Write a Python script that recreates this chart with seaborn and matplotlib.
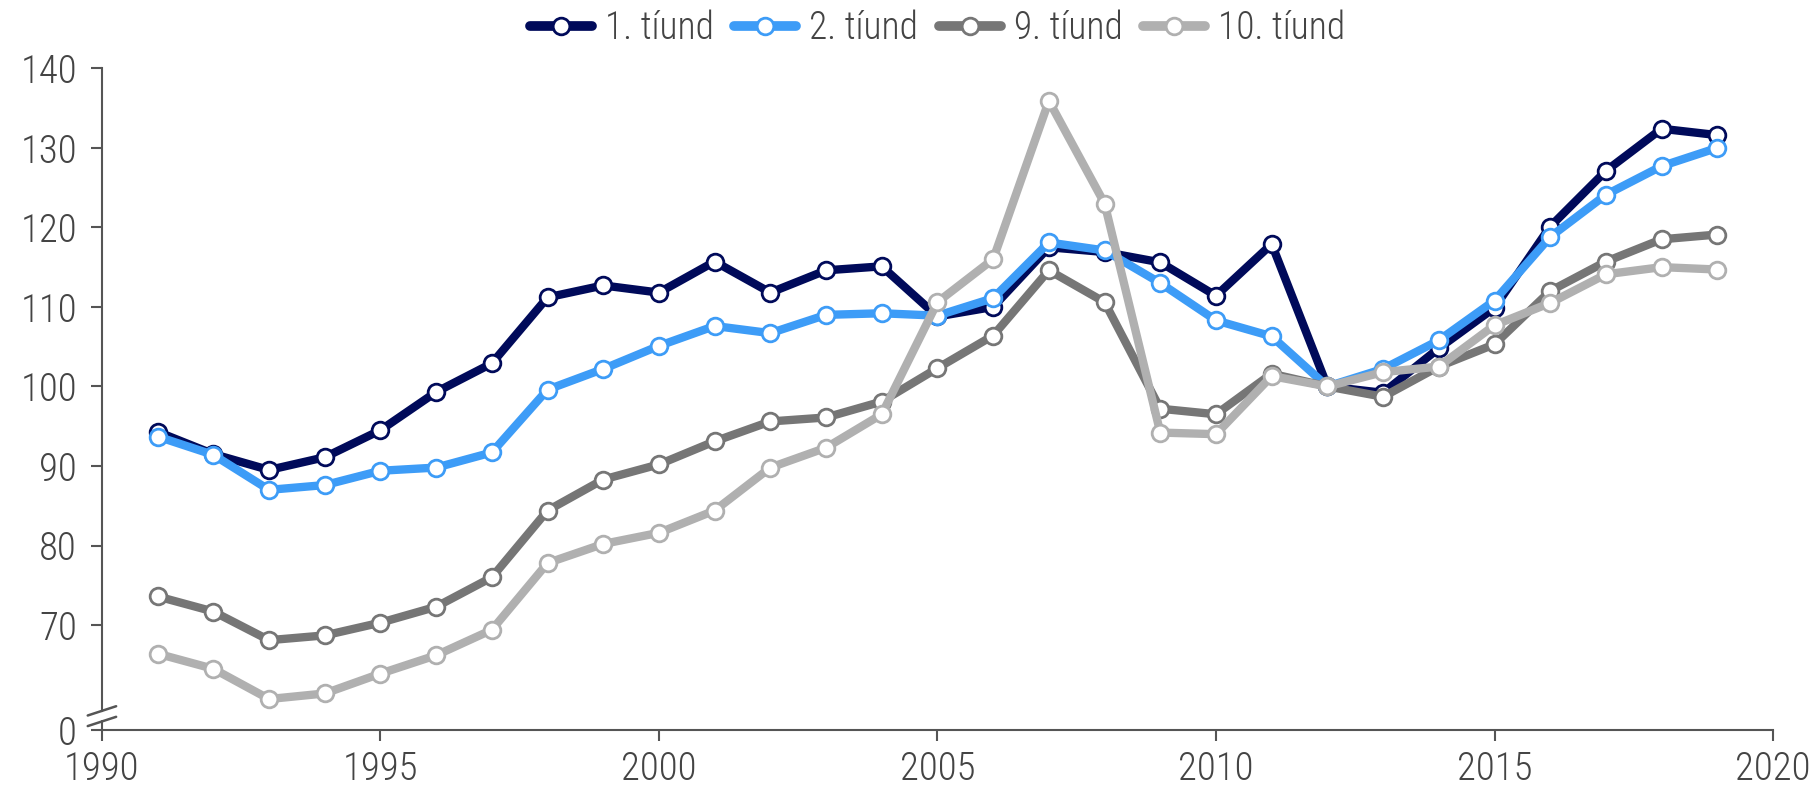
import pandas as pd
import numpy as np
import matplotlib
matplotlib.use("Agg")
import matplotlib.pyplot as plt
import seaborn as sns

# data
years = list(range(1991, 2020))
tiund_1 = [94.3, 91.5, 89.5, 91.1, 94.5, 99.3, 102.9, 111.2, 112.7, 111.8,
           115.7, 111.8, 114.6, 115.1, 108.8, 110.0, 117.5, 116.9, 115.6, 111.4,
           117.9, 100.0, 99.2, 104.8, 109.9, 120.1, 127.1, 132.4, 131.6]
tiund_2 = [93.7, 91.4, 87.0, 87.6, 89.4, 89.8, 91.7, 99.6, 102.2, 105.1,
           107.6, 106.7, 109.0, 109.2, 108.9, 111.1, 118.1, 117.1, 113.0, 108.3,
           106.3, 100.0, 102.2, 105.8, 110.8, 118.8, 124.1, 127.7, 130.0]
tiund_9 = [73.6, 71.7, 68.1, 68.7, 70.3, 72.3, 76.0, 84.4, 88.3, 90.2,
           93.1, 95.6, 96.1, 98.1, 102.3, 106.4, 114.6, 110.6, 97.2, 96.5,
           101.6, 100.0, 98.7, 102.5, 105.3, 112.0, 115.7, 118.5, 119.1]
tiund_10 = [66.4, 64.5, 60.7, 61.4, 63.9, 66.2, 69.4, 77.8, 80.2, 81.6,
            84.4, 89.8, 92.3, 96.5, 110.6, 116.0, 135.9, 123.0, 94.2, 94.0,
            101.3, 100.0, 101.8, 102.5, 107.7, 110.5, 114.1, 115.0, 114.7]

series_names = ["1. tíund", "2. tíund", "9. tíund", "10. tíund"]
series_colors = ["#000a5a", "#3d9cf7", "#767676", "#b0b0b0"]
y_ticks = [70, 80, 90, 100, 110, 120, 130, 140]
x_ticks = [1990, 1995, 2000, 2005, 2010, 2015, 2020]

df = pd.DataFrame({"Ár": years * 4,
                   "Vísitala": tiund_1 + tiund_2 + tiund_9 + tiund_10,
                   "Hópur": [n for n in series_names for _ in years]})

sns.set_style("ticks")
plt.rcParams["font.family"] = ["Roboto Condensed", "Liberation Sans Narrow", "Roboto", "DejaVu Sans"]
plt.rcParams["font.weight"] = "light"
text_col = "#444444"

fig, ax = plt.subplots(figsize=(18.17, 7.85), dpi=100)
fig.subplots_adjust(left=0.0561, right=0.9758, top=0.913, bottom=0.07)

for name, col in zip(series_names, series_colors):
    sub = df[df["Hópur"] == name]
    sns.lineplot(data=sub, x="Ár", y="Vísitala", ax=ax, color=col, linewidth=6,
                 marker="o", markersize=12, markerfacecolor="white",
                 markeredgecolor=col, markeredgewidth=2, label=name)

y_bottom = 56.8
ax.set_xlim(1990, 2020)
ax.set_ylim(y_bottom, 140)
ax.set_xticks(x_ticks)
ax.set_yticks([y_bottom] + y_ticks)
ax.set_yticklabels(["0"] + [str(t) for t in y_ticks])
ax.set_xlabel("")
ax.set_ylabel("")
ax.tick_params(axis="both", colors="#555555", labelcolor=text_col, labelsize=28,
               width=1.5, length=8)
ax.tick_params(axis="x", pad=7)
ax.tick_params(axis="y", pad=10)
for side in ["top", "right"]:
    ax.spines[side].set_visible(False)
for side in ["left", "bottom"]:
    ax.spines[side].set_color("#555555")
    ax.spines[side].set_linewidth(1.5)

# axis break marks on the y axis
ax.spines["left"].set_bounds(y_bottom + 0.029 * (140 - y_bottom), 140)
for dy in [0.029, 0.013]:
    ax.plot([-0.0085, 0.0085], [dy - 0.007, dy + 0.007], transform=ax.transAxes,
            color="#555555", lw=1.8, clip_on=False)
ax.plot([0, 0], [0, 0.013], transform=ax.transAxes, color="#555555", lw=1.5, clip_on=False)

leg = ax.legend(loc="upper center", bbox_to_anchor=(0.5, 1.14), ncol=4, frameon=False,
                fontsize=27, handlelength=1.65, columnspacing=0.55, handletextpad=0.35)
for t in leg.get_texts():
    t.set_color(text_col)
for h in leg.get_lines():
    h.set_linewidth(7)

fig.savefig("out.png", dpi=100)
